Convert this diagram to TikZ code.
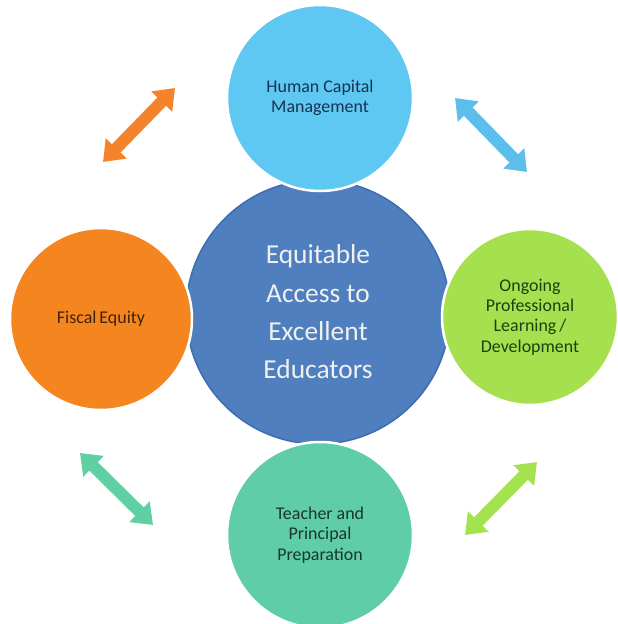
\documentclass[tikz,border=0pt]{standalone}
\usepackage{fontspec}
\setmainfont{Carlito}
\usetikzlibrary{arrows.meta}

\definecolor{hubfill}{HTML}{4F7FBF}
\definecolor{hubdraw}{HTML}{3D6DAE}
\definecolor{hcmfill}{HTML}{5EC8F2}
\definecolor{fiscfill}{HTML}{F5851F}
\definecolor{profill}{HTML}{A6E04F}
\definecolor{prepfill}{HTML}{5FCDA7}
\definecolor{hcmtext}{HTML}{17324F}
\definecolor{fisctext}{HTML}{40230B}
\definecolor{protext}{HTML}{1A420E}
\definecolor{preptext}{HTML}{19362E}
\definecolor{orangearr}{HTML}{F5832B}
\definecolor{bluearr}{HTML}{5DBEEC}
\definecolor{tealarr}{HTML}{5FD0A3}
\definecolor{limearr}{HTML}{A5E24F}

\begin{document}
\begin{tikzpicture}[x=1bp, y=-1bp,
    every node/.style={circle, align=center, inner sep=0pt},
    ring/.style={draw=white, line width=2.5bp, minimum size=#1},
    label text/.style={font=\fontsize{18}{20.5}\selectfont},
    link/.style={line width=12bp, {Triangle[width=28bp,length=19bp]}-{Triangle[width=28bp,length=19bp]}}]
    \useasboundingbox (0,0) rectangle (618,624);

    \node[fill=hubfill, draw=hubdraw, line width=1.5bp, minimum size=264bp,
          text=white!94!black, font=\fontsize{27.5}{38.5}\selectfont] (hub) at (318,312)
        {Equitable\\Access to\\Excellent\\Educators};

    \node[ring=186bp, fill=hcmfill, label text, text=hcmtext] (hcm) at (320,98)
        {Human Capital\\Management};
    \node[ring=182bp, fill=fiscfill, label text, text=fisctext] (fiscal) at (101,319)
        {Fiscal\,Equity};
    \node[ring=176bp, fill=profill, label text, text=protext] (prof) at (530,317)
        {Ongoing\\Professional\\Learning\,/\\Development};
    \node[ring=186bp, fill=prepfill, label text, text=preptext] (prep) at (320,535)
        {Teacher and\\Principal\\Preparation};

    \coordinate (o1) at (103,162);
    \coordinate (o2) at (175,88);
    \coordinate (b1) at (455,98);
    \coordinate (b2) at (527,172);
    \coordinate (g1) at (537,462);
    \coordinate (g2) at (465,535);
    \coordinate (t1) at (80,453);
    \coordinate (t2) at (153,525);

    \draw[link, draw=orangearr, fill=orangearr] (o1) -- (o2);
    \draw[link, draw=bluearr, fill=bluearr] (b1) -- (b2);
    \draw[link, draw=limearr, fill=limearr] (g1) -- (g2);
    \draw[link, draw=tealarr, fill=tealarr] (t1) -- (t2);
\end{tikzpicture}
\end{document}
